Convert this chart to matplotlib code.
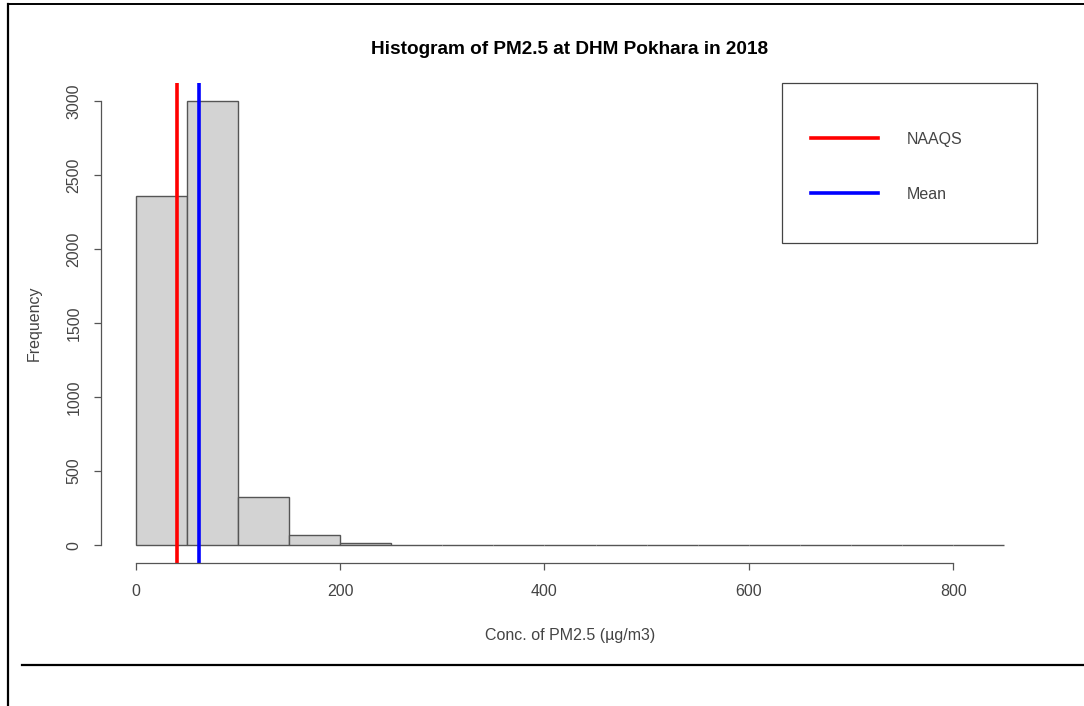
import numpy as np
import matplotlib
matplotlib.use("Agg")
import matplotlib.pyplot as plt
from matplotlib.lines import Line2D
from matplotlib.patches import Rectangle

plt.rcParams['font.family'] = ['Liberation Sans', 'DejaVu Sans']

# histogram of hourly PM2.5, bins of 50
bin_edges = np.arange(0, 900, 50)
counts = [2358, 3000, 326, 68, 14, 5, 3, 2, 1, 1, 1, 0, 1, 0, 0, 0, 1]
naaqs = 40
mean_pm25 = 61.6

x_ticks = [0, 200, 400, 600, 800]
y_ticks = [0, 500, 1000, 1500, 2000, 2500, 3000]

txt = '#444444'
axc = '#555555'

fig = plt.figure(figsize=(10.84, 7.06), dpi=100)
ax = fig.add_axes([0.0932, 0.2025, 0.8653, 0.6799])

ax.bar(bin_edges[:-1], counts, width=50, align='edge',
       color='#D3D3D3', edgecolor='#555555', linewidth=1.0)

ax.axvline(naaqs, color='#FF0000', lw=2.6, label='NAAQS')
ax.axvline(mean_pm25, color='#0000FF', lw=2.6, label='Mean')

ax.set_xlim(-34, 884)
ax.set_ylim(-120, 3120)

for s in ['top', 'right']:
    ax.spines[s].set_visible(False)
ax.spines['bottom'].set_bounds(0, 800)
ax.spines['left'].set_bounds(0, 3000)
for s in ['bottom', 'left']:
    ax.spines[s].set_color(axc)
    ax.spines[s].set_linewidth(0.9)

ax.set_xticks(x_ticks)
ax.set_yticks(y_ticks)
ax.tick_params(axis='both', length=5, width=0.9, color=axc,
               labelcolor=txt, labelsize=11.5)
ax.tick_params(axis='x', pad=10)
ax.tick_params(axis='y', pad=9)
plt.setp(ax.get_yticklabels(), rotation=90, va='center')

ax.set_title('Histogram of PM2.5 at DHM Pokhara in 2018',
             fontsize=13.7, fontweight='bold', pad=21)
ax.set_xlabel('Conc. of PM2.5 (\u00b5g/m3)', fontsize=11.5, color=txt, labelpad=21)
ax.set_ylabel('Frequency', fontsize=11.5, color=txt, labelpad=18)

# legend box like R's legend()
ax.add_patch(Rectangle((0.726, 0.667), 0.272, 0.333, transform=ax.transAxes,
                       fill=False, edgecolor='#444444', lw=0.9, clip_on=False))
ax.legend(loc='upper left', bbox_to_anchor=(0.7485, 0.915), frameon=False,
          borderpad=0, handlelength=4.2, handletextpad=1.8,
          labelspacing=2.5, fontsize=11.5, labelcolor=txt)

# document table borders around the picture
fig.add_artist(Line2D([8 / 1084, 8 / 1084], [0, 1 - 4 / 706], color='black', lw=1.6))
fig.add_artist(Line2D([8 / 1084, 1], [1 - 4 / 706, 1 - 4 / 706], color='black', lw=1.4))
fig.add_artist(Line2D([22 / 1084, 1], [1 - 665 / 706, 1 - 665 / 706], color='black', lw=1.6))

fig.savefig('out.png', dpi=100)
